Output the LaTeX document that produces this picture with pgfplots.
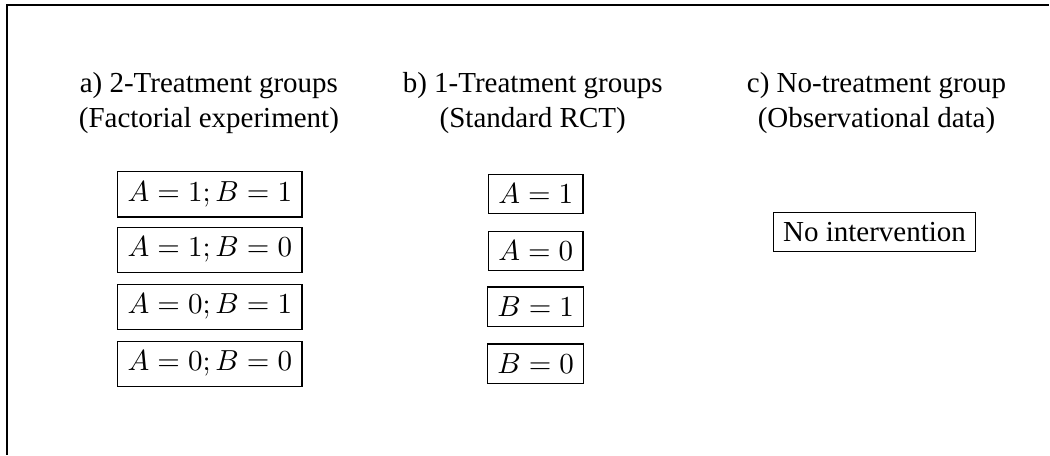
\documentclass[border=0pt]{standalone}
\usepackage{fontspec}
\setmainfont{Liberation Serif}
\usepackage{pgfplots}
\pgfplotsset{compat=1.18}
\begin{document}
\begin{tikzpicture}
\begin{axis}[
  width=362pt, height=156.87pt, scale only axis,
  xmin=0, xmax=1050, ymin=0, ymax=455, y dir=reverse,
  hide axis, clip=false,
]
\path (axis cs:0,0) rectangle (axis cs:1050,455);
\draw[line width=0.4pt] (axis cs:7,455) -- (axis cs:7,5) -- (axis cs:1050,5);
% headers
\node[anchor=base] at (axis cs:209,93) {a) 2-Treatment groups};
\node[anchor=base] at (axis cs:209,128) {(Factorial experiment)};
\node[anchor=base] at (axis cs:533,93) {b) 1-Treatment groups};
\node[anchor=base] at (axis cs:533,128) {(Standard RCT)};
\node[anchor=base] at (axis cs:877,93) {c) No-treatment group};
\node[anchor=base] at (axis cs:877,128) {(Observational data)};
% boxes a
\tikzset{bx/.style={draw, line width=0.4pt, inner sep=3.4pt}}
\node[bx] at (axis cs:210,194.5) {$A=1; B=1$};
\node[bx] at (axis cs:210,250) {$A=1; B=0$};
\node[bx] at (axis cs:210,307) {$A=0; B=1$};
\node[bx] at (axis cs:210,364) {$A=0; B=0$};
% boxes b
\node[bx] at (axis cs:536,194) {$A=1$};
\node[bx] at (axis cs:536,251) {$A=0$};
\node[bx] at (axis cs:536,307) {$B=1$};
\node[bx] at (axis cs:536,364) {$B=0$};
% box c
\node[bx] at (axis cs:875,232) {No intervention};
\end{axis}
\end{tikzpicture}
\end{document}
